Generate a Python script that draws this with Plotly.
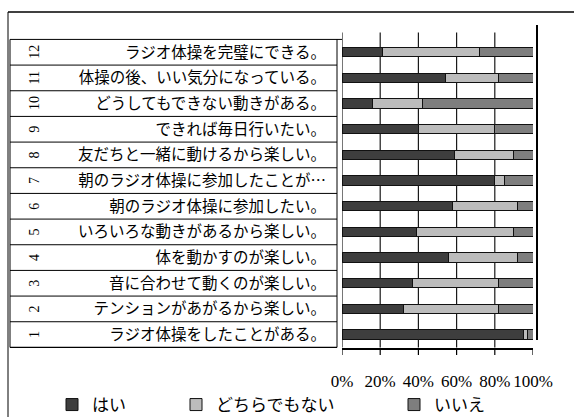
import plotly.graph_objects as go

# survey items (bottom -> top)
item_no = ["1", "2", "3", "4", "5", "6", "7", "8", "9", "10", "11", "12"]
item_text = [
    "ラジオ体操をしたことがある。",
    "テンションがあがるから楽しい。",
    "音に合わせて動くのが楽しい。",
    "体を動かすのが楽しい。",
    "いろいろな動きがあるから楽しい。",
    "朝のラジオ体操に参加したい。",
    "朝のラジオ体操に参加したことが…",
    "友だちと一緒に動けるから楽しい。",
    "できれば毎日行いたい。",
    "どうしてもできない動きがある。",
    "体操の後、いい気分になっている。",
    "ラジオ体操を完璧にできる。",
]

# percentages
hai = [95, 32, 37, 56, 39, 58, 80, 59, 40, 16, 54, 21]
dochira = [2, 50, 45, 36, 51, 34, 5, 31, 40, 26, 28, 51]
iie = [3, 18, 18, 8, 10, 8, 15, 10, 20, 58, 18, 28]

pct_ticks = [0, 20, 40, 60, 80, 100]
pct_labels = ["0%", "20%", "40%", "60%", "80%", "100%"]

W, H = 574, 417
L, R, T, B = 342, 41, 32, 69
plot_w = W - L - R
plot_h = H - T - B
BARGAP = 0.64
half_bar = (1 - BARGAP) / 2


def px_x(px):
    return (px - L) / plot_w


def px_y(py):
    return (H - B - py) / plot_h


fig = go.Figure()
series = [("はい", hai, "#3e3e3e", "legend"),
          ("どちらでもない", dochira, "#bcbcbc", "legend2"),
          ("いいえ", iie, "#7e7e7e", "legend3")]
for name, vals, col, lg in series:
    fig.add_trace(go.Bar(
        x=vals, y=item_no, orientation="h", name=name,
        marker=dict(color=col, line=dict(color="#111111", width=1)),
        legend=lg, showlegend=True,
    ))

fig.update_layout(
    template="none",
    width=W, height=H,
    margin=dict(l=L, r=R, t=T, b=B, autoexpand=False),
    barmode="stack", bargap=BARGAP,
    paper_bgcolor="white", plot_bgcolor="rgba(0,0,0,0)",
    font=dict(family="Noto Sans CJK JP", color="black"),
    xaxis=dict(
        range=[0, 100], tickmode="array", tickvals=pct_ticks, ticktext=pct_labels,
        showgrid=False,
        ticks="outside", ticklen=17, tickcolor="rgba(0,0,0,0)",
        showline=True, linecolor="black", linewidth=1.5,
        zeroline=False, automargin=False,
        tickfont=dict(family="Liberation Serif", size=17, color="black"),
    ),
    yaxis=dict(
        type="category", categoryarray=item_no,
        tickmode="array", tickvals=item_no, ticktext=item_text,
        ticks="outside", ticklen=12, tickcolor="rgba(0,0,0,0)",
        showline=False, showgrid=False, zeroline=False, automargin=False,
        tickfont=dict(family="Noto Sans CJK JP", size=15.5, color="black"),
    ),
)

# item numbers (rotated) in the label table
for i, n in enumerate(item_no):
    fig.add_annotation(x=px_x(25), xref="paper", y=i, yref="y", text=n,
                       textangle=-90, showarrow=False,
                       font=dict(family="Liberation Serif", size=14, color="black"))

shapes = []
# grid lines at the percentage ticks, drawn in the gaps between the bars
n = len(item_no)
gaps = [(-0.5, -half_bar)] + [(i + half_bar, i + 1 - half_bar) for i in range(n - 1)]
gaps.append((n - 1 + half_bar, n - 0.5 + 7 / (plot_h / n)))
for v in pct_ticks[:-1]:
    for g0, g1 in gaps:
        shapes.append(dict(type="line", xref="x", yref="y", x0=v, x1=v,
                           y0=g0, y1=g1, line=dict(color="#1a1a1a", width=1.2)))
# short floor ticks below the axis
for v in pct_ticks:
    shapes.append(dict(type="line", xref="x", yref="paper", x0=v, x1=v,
                       y0=0, y1=px_y(355), line=dict(color="black", width=1.2)))
# row separators of the label table
for k in range(n + 1):
    shapes.append(dict(type="line", xref="paper", yref="y",
                       x0=px_x(10), x1=px_x(337) if k < n else 0,
                       y0=k - 0.5, y1=k - 0.5,
                       line=dict(color="black", width=1.2 if k == 0 else 1)))
shapes.append(dict(type="line", xref="paper", yref="y", x0=px_x(10), x1=px_x(10),
                   y0=-0.5, y1=n - 0.5, line=dict(color="black", width=1)))
shapes.append(dict(type="line", xref="paper", yref="y", x0=px_x(337), x1=px_x(337),
                   y0=-0.5, y1=n - 0.5, line=dict(color="black", width=1)))
# right wall
shapes.append(dict(type="line", xref="paper", yref="paper", x0=px_x(537), x1=px_x(537),
                   y0=px_y(340), y1=px_y(25), line=dict(color="black", width=2)))
# outer frame
shapes.append(dict(type="line", xref="paper", yref="paper", x0=px_x(8), x1=px_x(8),
                   y0=px_y(12), y1=px_y(420), line=dict(color="black", width=1)))
shapes.append(dict(type="line", xref="paper", yref="paper", x0=px_x(8), x1=px_x(580),
                   y0=px_y(12), y1=px_y(12), line=dict(color="black", width=1.5)))
fig.update_layout(shapes=shapes)

leg_common = dict(orientation="h", xref="container", yref="container",
                  xanchor="left", yanchor="middle", y=1 - 405 / H,
                  bgcolor="rgba(0,0,0,0)",
                  font=dict(family="Noto Sans CJK JP", size=17, color="black"))
fig.update_layout(
    legend=dict(x=52 / W, **leg_common),
    legend2=dict(x=176 / W, **leg_common),
    legend3=dict(x=394 / W, **leg_common),
)

fig.write_html("out.html", config={"displayModeBar": False},
               post_script="document.body.style.margin='0';")
